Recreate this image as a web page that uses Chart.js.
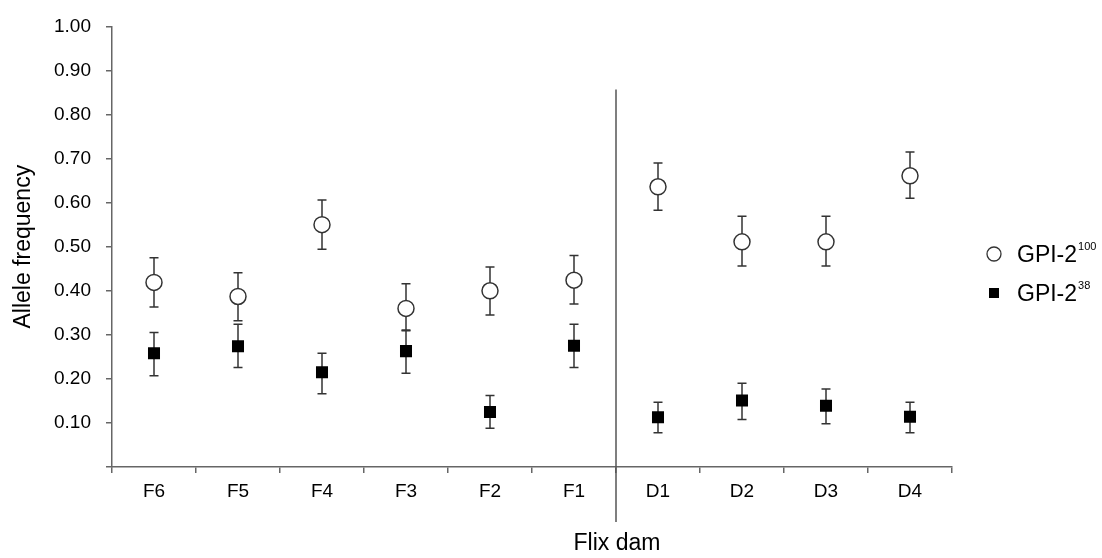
<!DOCTYPE html>
<html lang="en">
<head>
    <meta charset="UTF-8">
    <title>Allele frequency - Flix dam</title>
    <script src="https://cdn.jsdelivr.net/npm/chart.js"></script>
    <style>
        body { margin: 0; background: #fff; }
        #wrap { width: 1102px; height: 558px; }
    </style>
</head>
<body>
    <div id="wrap"><canvas id="myChart" width="1102" height="558"></canvas></div>
    <script>
        // Data
        const categories = ['F6', 'F5', 'F4', 'F3', 'F2', 'F1', 'D1', 'D2', 'D3', 'D4'];
        const gpi100 = [0.419, 0.387, 0.550, 0.360, 0.400, 0.424, 0.636, 0.511, 0.511, 0.661];
        const gpi100Low = [0.363, 0.332, 0.494, 0.309, 0.345, 0.370, 0.583, 0.456, 0.456, 0.610];
        const gpi100High = [0.475, 0.441, 0.606, 0.416, 0.454, 0.480, 0.690, 0.569, 0.569, 0.715];
        const gpi38 = [0.258, 0.274, 0.215, 0.263, 0.125, 0.275, 0.113, 0.151, 0.139, 0.114];
        const gpi38Low = [0.207, 0.226, 0.166, 0.213, 0.088, 0.226, 0.078, 0.108, 0.098, 0.078];
        const gpi38High = [0.305, 0.324, 0.258, 0.311, 0.162, 0.324, 0.147, 0.190, 0.177, 0.147];
        const yTicks = [0, 0.1, 0.2, 0.3, 0.4, 0.5, 0.6, 0.7, 0.8, 0.9, 1.0];
        const xTitle = 'Flix dam';
        const legendItems = [
            { base: 'GPI-2', sup: '100', style: 'circle' },
            { base: 'GPI-2', sup: '38', style: 'rect' }
        ];

        const FONT = '"Liberation Sans", Arial, sans-serif';
        const axisColor = '#666';

        // error bars behind the markers, divider, x title and legend on top
        const errorBars = {
            id: 'errorBars',
            beforeDatasetsDraw(chart) {
                const { ctx, scales: { x, y } } = chart;
                const sets = [[gpi100Low, gpi100High], [gpi38Low, gpi38High]];
                ctx.save();
                ctx.strokeStyle = '#333';
                ctx.lineWidth = 1.5;
                sets.forEach(([lo, hi]) => {
                    categories.forEach((c, i) => {
                        const px = x.getPixelForValue(i);
                        const yl = y.getPixelForValue(lo[i]);
                        const yh = y.getPixelForValue(hi[i]);
                        ctx.beginPath();
                        ctx.moveTo(px, yl); ctx.lineTo(px, yh);
                        ctx.moveTo(px - 4.5, yl); ctx.lineTo(px + 4.5, yl);
                        ctx.moveTo(px - 4.5, yh); ctx.lineTo(px + 4.5, yh);
                        ctx.stroke();
                    });
                });
                ctx.restore();
            },
            afterDraw(chart) {
                const { ctx, chartArea, scales: { x, y } } = chart;
                // divider between F1 and D1
                const xd = (x.getPixelForValue(5) + x.getPixelForValue(6)) / 2;
                ctx.save();
                ctx.strokeStyle = '#555';
                ctx.lineWidth = 1.5;
                ctx.beginPath();
                ctx.moveTo(xd, y.getPixelForValue(0.857));
                ctx.lineTo(xd, chartArea.bottom + 55);
                ctx.stroke();

                // x title, centred under the divider
                ctx.fillStyle = '#000';
                ctx.textAlign = 'center';
                ctx.textBaseline = 'alphabetic';
                ctx.font = '23px ' + FONT;
                ctx.fillText(xTitle, xd + 1, chartArea.bottom + 83);

                // legend with superscripts
                legendItems.forEach((item, k) => {
                    const cy = 254 + k * 39;
                    const mx = chartArea.right + 42;
                    ctx.lineWidth = 1.3;
                    ctx.strokeStyle = '#333';
                    if (item.style === 'circle') {
                        ctx.fillStyle = '#fff';
                        ctx.beginPath();
                        ctx.arc(mx, cy, 7, 0, Math.PI * 2);
                        ctx.fill(); ctx.stroke();
                    } else {
                        ctx.fillStyle = '#000';
                        ctx.fillRect(mx - 5, cy - 5, 10, 10);
                    }
                    ctx.fillStyle = '#000';
                    ctx.textAlign = 'left';
                    ctx.textBaseline = 'alphabetic';
                    ctx.font = '23px ' + FONT;
                    const tx = mx + 23;
                    ctx.fillText(item.base, tx, cy + 8);
                    const w = ctx.measureText(item.base).width;
                    ctx.font = '11px ' + FONT;
                    ctx.fillText(item.sup, tx + w + 1, cy - 4);
                });
                ctx.restore();
            }
        };

        const ctx = document.getElementById('myChart').getContext('2d');
        const myChart = new Chart(ctx, {
            type: 'line',
            data: {
                labels: categories,
                datasets: [{
                    label: 'GPI-2 100',
                    data: gpi100,
                    showLine: false,
                    pointStyle: 'circle',
                    pointRadius: 8,
                    pointBackgroundColor: '#fff',
                    pointBorderColor: '#333',
                    pointBorderWidth: 1.5
                }, {
                    label: 'GPI-2 38',
                    data: gpi38,
                    showLine: false,
                    pointStyle: 'rect',
                    pointRadius: 8.5,
                    pointBackgroundColor: '#000',
                    pointBorderColor: '#000',
                    pointBorderWidth: 0
                }]
            },
            options: {
                responsive: false,
                animation: false,
                layout: { padding: { top: 25, right: 150, left: 0, bottom: 0 } },
                plugins: {
                    legend: { display: false },
                    tooltip: { enabled: false }
                },
                scales: {
                    x: {
                        offset: true,
                        grid: {
                            offset: true,
                            drawOnChartArea: false,
                            tickLength: 6,
                            color: axisColor,
                            lineWidth: 1.5
                        },
                        border: { color: axisColor, width: 1.5 },
                        ticks: { color: '#000', font: { family: FONT, size: 19 }, padding: 7 },
                        afterFit(scale) { scale.height = 91; }
                    },
                    y: {
                        min: 0,
                        max: 1,
                        afterBuildTicks(scale) { scale.ticks = yTicks.map(v => ({ value: v })); },
                        grid: {
                            drawOnChartArea: false,
                            tickLength: 6,
                            color: axisColor,
                            lineWidth: 1.5
                        },
                        border: { color: axisColor, width: 1.5 },
                        ticks: {
                            color: '#000',
                            font: { family: FONT, size: 19 },
                            padding: 15,
                            callback: v => v === 0 ? '' : v.toFixed(2)
                        },
                        title: {
                            display: true,
                            text: 'Allele frequency',
                            color: '#000',
                            font: { family: FONT, size: 23 },
                            padding: { top: 10, bottom: 0 }
                        },
                        afterFit(scale) { scale.width = 112; }
                    }
                }
            },
            plugins: [errorBars]
        });
    </script>
</body>
</html>
